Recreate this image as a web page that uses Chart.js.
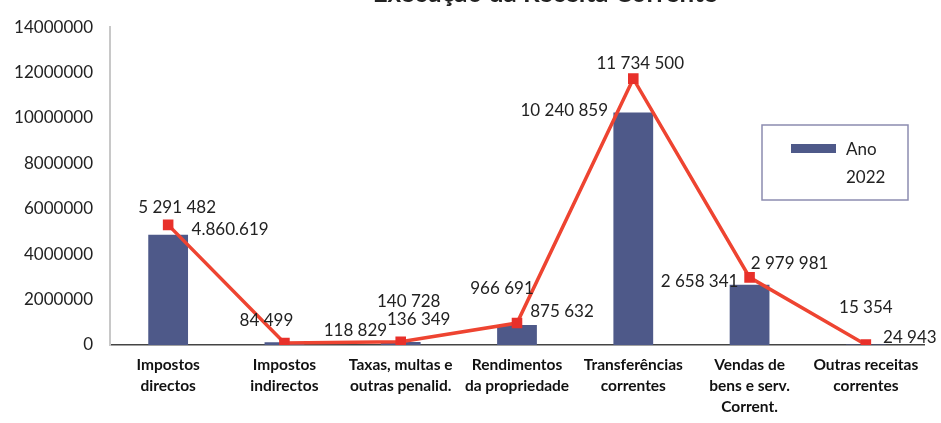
<!DOCTYPE html>
<html>
<head>
<meta charset="utf-8">
<script src="https://cdn.jsdelivr.net/npm/chart.js@4.4.0/dist/chart.umd.min.js"></script>
<style>
  html, body { margin: 0; padding: 0; background: #fff; overflow: hidden; }
  #wrap { position: relative; width: 941px; height: 423px; }
  #title {
    position: absolute; top: -24px; left: 330px; width: 430px;
    text-align: center; font: bold 26px Lato, sans-serif; color: #222;
    white-space: nowrap;
  }
</style>
</head>
<body>
<div id="wrap">
  <div id="title">Execução da Receita Corrente</div>
  <canvas id="receitaChart" width="941" height="423"></canvas>
</div>
<script>
// --- data ---
const categories = [
  ['Impostos', 'directos'],
  ['Impostos', 'indirectos'],
  ['Taxas, multas e', 'outras penalid.'],
  ['Rendimentos', 'da propriedade'],
  ['Transferências', 'correntes'],
  ['Vendas de', 'bens e serv.', 'Corrent.'],
  ['Outras receitas', 'correntes']
]
const ano2022Values = [4860619, 118829, 136349, 875632, 10240859, 2658341, 24943]
const ano2022Labels = ['4.860.619', '118 829', '136 349', '875 632', '10 240 859', '2 658 341', '24 943']
const previsaoValues = [5291482, 84499, 140728, 966691, 11734500, 2979981, 15354]
const previsaoLabels = ['5 291 482', '84 499', '140 728', '966 691', '11 734 500', '2 979 981', '15 354']
const yTicks = [0, 2000000, 4000000, 6000000, 8000000, 10000000, 12000000, 14000000]

// label nudges (px) so numbers sit where they do in the original
const barLabelOffsets = [[62, -5], [71, -12], [18, -22], [45, -14], [-69, -2], [-50, -3], [44, -7]]
const lineLabelOffsets = [[9, -17], [-18, -23], [8, -40], [-15, -35], [7, -15], [40, -14], [0, -37]]

const numberFont = '17px Lato, sans-serif'

// draws the value labels next to each bar / point
const valueLabels = {
  id: 'valueLabels',
  afterDatasetsDraw(chart) {
    const ctx = chart.ctx
    ctx.save()
    ctx.font = numberFont
    ctx.fillStyle = '#222'
    ctx.textAlign = 'center'
    ctx.textBaseline = 'middle'
    chart.getDatasetMeta(0).data.forEach((el, i) => {
      const [dx, dy] = barLabelOffsets[i]
      ctx.fillText(ano2022Labels[i], el.x + dx, el.y + dy)
    })
    chart.getDatasetMeta(1).data.forEach((el, i) => {
      const [dx, dy] = lineLabelOffsets[i]
      ctx.fillText(previsaoLabels[i], el.x + dx, el.y + dy)
    })
    ctx.restore()
  }
}

// boxed legend inside the plot, bar series only
const boxLegend = {
  id: 'boxLegend',
  afterDraw(chart) {
    const ctx = chart.ctx
    const ds = chart.data.datasets[0]
    const words = ds.label.split(' ')
    ctx.save()
    ctx.strokeStyle = '#8c8cb0'
    ctx.lineWidth = 1.5
    ctx.strokeRect(762, 125, 146, 75)
    ctx.fillStyle = ds.backgroundColor
    ctx.fillRect(791, 144, 45, 9)
    ctx.fillStyle = '#222'
    ctx.font = numberFont
    ctx.textBaseline = 'middle'
    ctx.textAlign = 'left'
    ctx.fillText(words[0], 846, 150)
    ctx.fillText(words[1], 846, 178)
    ctx.restore()
  }
}

const ctx = document.getElementById('receitaChart')
new Chart(ctx, {
  type: 'bar',
  data: {
    labels: categories,
    datasets: [
      {
        type: 'bar',
        label: 'Ano 2022',
        data: ano2022Values,
        backgroundColor: '#4e5989',
        barPercentage: 0.9,
        categoryPercentage: 0.38,
        order: 2
      },
      {
        type: 'line',
        label: 'Previsão',
        data: previsaoValues,
        borderColor: '#ee4431',
        borderWidth: 3.5,
        pointStyle: 'rect',
        pointRadius: 5,
        pointBackgroundColor: '#e8302a',
        pointBorderColor: '#e8302a',
        tension: 0,
        order: 1
      }
    ]
  },
  options: {
    responsive: false,
    animation: false,
    layout: {
      padding: { top: 6, right: 17, left: 0, bottom: 0 }
    },
    plugins: {
      legend: { display: false },
      title: { display: false },
      tooltip: { enabled: false }
    },
    scales: {
      x: {
        grid: { display: false, drawTicks: false },
        border: { display: true, color: '#444', width: 1.5 },
        ticks: {
          autoSkip: false,
          maxRotation: 0,
          minRotation: 0,
          padding: 10,
          color: '#111',
          font: { family: 'Lato, sans-serif', size: 15.5, weight: 'bold', lineHeight: 1.35 }
        },
        afterFit: (scale) => { scale.height = 78 }
      },
      y: {
        min: 0,
        max: 14000000,
        afterBuildTicks: (scale) => {
          scale.ticks = yTicks.map((v) => ({ value: v }))
        },
        grid: { display: false, drawTicks: false },
        border: { display: true, color: '#c8c8c8', width: 2 },
        ticks: {
          padding: 17,
          color: '#222',
          font: { family: 'Lato, sans-serif', size: 17 },
          callback: (value) => String(value)
        },
        afterFit: (scale) => { scale.width = 110 }
      }
    }
  },
  plugins: [valueLabels, boxLegend]
})
</script>
</body>
</html>
